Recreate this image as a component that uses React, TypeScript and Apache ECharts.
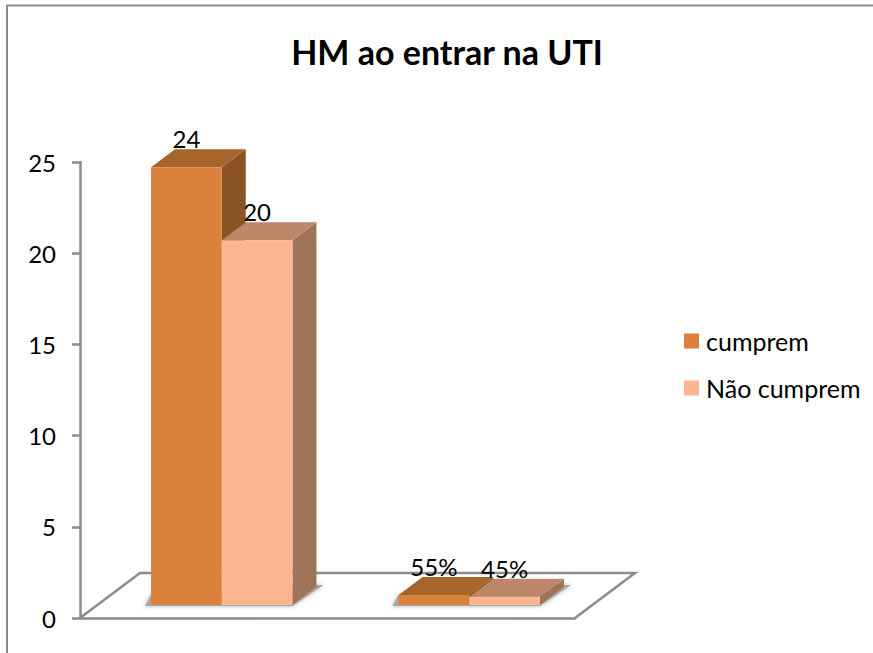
import React, { useEffect, useRef } from "react";
import * as echarts from "echarts";

const categories = ["A", "B"];
const cumprem = [24, 0.55];
const naoCumprem = [20, 0.45];
const cumpremLabels = ["24", "55%"];
const naoCumpremLabels = ["20", "45%"];
const FONT = "Lato";

const DEPTH_X = 24;
const DEPTH_Y = 18;
const PLANE_X = 18;
const PLANE_Y = 13;

function barSeries(name: string, values: number[], labels: string[], idx: number, front: string, top: string, side: string) {
  return {
    type: "custom",
    name,
    z: 5 + idx,
    itemStyle: { color: front },
    encode: { x: 0, y: 1 },
    data: values.map((v, i) => [i, v]),
    renderItem: (params: any, api: any) => {
      const i = api.value(0);
      const v = api.value(1);
      const band = api.size([1, 0])[0];
      const w = band / 3.5;
      const [cx, ty0] = api.coord([i, v]);
      const [, by0] = api.coord([i, 0]);
      const x0 = cx + PLANE_X - w + idx * w;
      const x1 = x0 + w;
      const t = ty0 - PLANE_Y;
      const b = by0 - PLANE_Y;
      return {
        type: "group",
        children: [
          {
            type: "polygon",
            shape: { points: [[x1, t], [x1 + DEPTH_X, t - DEPTH_Y], [x1 + DEPTH_X, b - DEPTH_Y], [x1, b]] },
            style: { fill: side },
          },
          {
            type: "polygon",
            shape: { points: [[x0, t], [x0 + DEPTH_X, t - DEPTH_Y], [x1 + DEPTH_X, t - DEPTH_Y], [x1, t]] },
            style: { fill: top },
          },
          { type: "rect", shape: { x: x0, y: t, width: w, height: b - t }, style: { fill: front } },
          {
            type: "text",
            z2: 50,
            style: {
              text: labels[i],
              x: (x0 + x1) / 2,
              y: t - 28.5,
              align: "center",
              verticalAlign: "middle",
              fontFamily: FONT,
              fontSize: 24,
              fill: "#000",
            },
          },
        ],
      };
    },
  };
}

export default function App() {
  const ref = useRef<HTMLDivElement>(null);
  useEffect(() => {
    const chart = echarts.init(ref.current!, null, { renderer: "svg" });
    chart.setOption({
      animation: false,
      backgroundColor: "#fff",
      title: {
        text: "HM ao entrar na UTI",
        left: 447,
        top: 29,
        textAlign: "center",
        textStyle: { fontFamily: FONT, fontWeight: "bold", fontSize: 34, color: "#000" },
      },
      grid: { left: 80, top: 162, width: 495, height: 456 },
      xAxis: {
        type: "category",
        data: categories,
        axisLine: { show: true, lineStyle: { color: "#8c8c8c", width: 2.5 } },
        axisTick: { show: false },
        axisLabel: { show: false },
      },
      yAxis: {
        type: "value",
        min: 0,
        max: 25,
        interval: 5,
        splitLine: { show: false },
        axisLine: { show: true, lineStyle: { color: "#8c8c8c", width: 2.5 } },
        axisTick: { show: true, length: 8, lineStyle: { color: "#8c8c8c", width: 2.5 } },
        axisLabel: { fontFamily: FONT, fontSize: 24, color: "#000", margin: 24 },
      },
      legend: {
        orient: "vertical",
        left: 684,
        top: 328.5,
        padding: 0,
        data: ["cumprem", "Não cumprem"],
        icon: "rect",
        itemWidth: 15,
        itemHeight: 15,
        itemGap: 22,
        selectedMode: false,
        textStyle: { fontFamily: FONT, fontSize: 25, color: "#000", padding: [0, 0, 0, 2] },
      },
      graphic: [
        { type: "line", shape: { x1: 7, y1: 5.5, x2: 7, y2: 653 }, style: { stroke: "#8c8c8c", lineWidth: 2 } },
        { type: "line", shape: { x1: 6, y1: 5.5, x2: 873, y2: 5.5 }, style: { stroke: "#8c8c8c", lineWidth: 2 } },
      ],
      series: [
        {
          type: "custom",
          z: 1,
          data: [[0, 0]],
          encode: { x: 0, y: 1 },
          renderItem: (params: any) => {
            const c = params.coordSys;
            const yb = c.y + c.height;
            return {
              type: "polyline",
              shape: {
                points: [[c.x, yb], [c.x + 60, yb - 45], [c.x + c.width + 60, yb - 45], [c.x + c.width, yb]],
              },
              style: { stroke: "#8c8c8c", lineWidth: 2.5, fill: "none" },
            };
          },
        },
        {
          type: "custom",
          z: 2,
          data: categories.map((_, i) => [i, 0]),
          encode: { x: 0, y: 1 },
          renderItem: (params: any, api: any) => {
            const band = api.size([1, 0])[0];
            const w = band / 3.5;
            const [cx, y0] = api.coord([api.value(0), 0]);
            const x0 = cx + PLANE_X - w;
            const x1 = x0 + 2 * w;
            const b = y0 - PLANE_Y;
            return {
              type: "polygon",
              shape: {
                points: [[x0 - 6, b + 1], [x1, b + 1], [x1 + 31, b - 20], [x1 + 20, b - 20], [x0, b - 10]],
              },
              style: { fill: "#a8a8a8", shadowBlur: 4, shadowColor: "rgba(150,150,150,0.8)" },
            };
          },
        },
        barSeries("cumprem", cumprem, cumpremLabels, 0, "#DA813B", "#A7652C", "#8A5424"),
        barSeries("Não cumprem", naoCumprem, naoCumpremLabels, 1, "#FCB68F", "#BC8769", "#9E7358"),
      ],
    });
    chart.setOption({ title: { left: 442 } });
    return () => chart.dispose();
  }, []);
  return <div ref={ref} style={{ position: "fixed", left: 0, top: 0, width: 873, height: 653 }} />;
}
